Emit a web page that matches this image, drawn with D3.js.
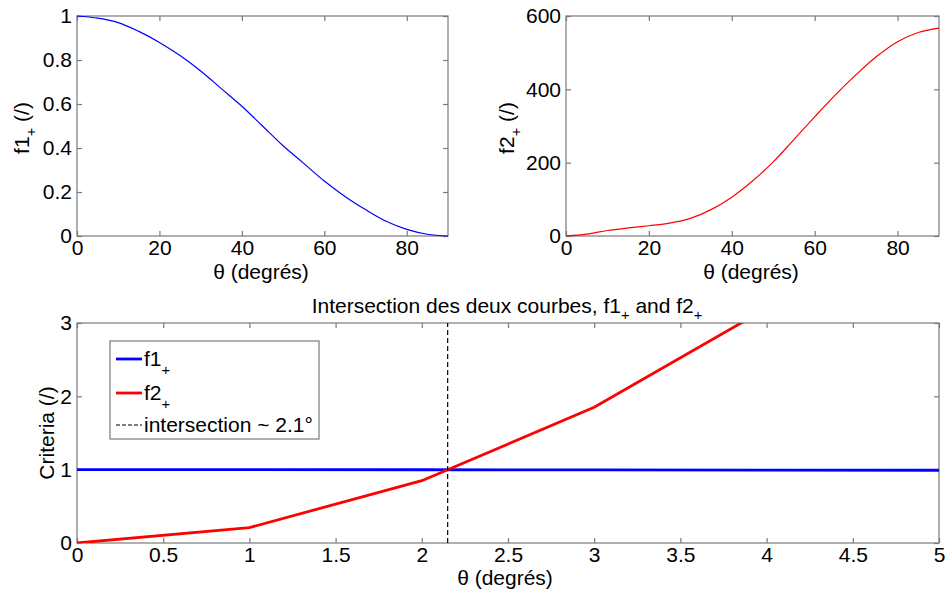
<!DOCTYPE html>
<html>
<head>
<meta charset="utf-8">
<script src="https://cdn.jsdelivr.net/npm/d3@7"></script>
<style>
  html, body { margin: 0; padding: 0; background: #fff; }
  svg { display: block; }
  text { font-family: "Liberation Sans", Arial, Helvetica, sans-serif; fill: #000; }
</style>
</head>
<body>
<svg id="chart" width="947" height="592"></svg>
<script>
// ---------- DATA ----------
const thetaTop = [0, 5, 10, 15, 20, 25, 30, 35, 40, 45, 50, 55, 60, 65, 70, 75, 80, 85, 90];
const f1Top = [1, 0.99, 0.97, 0.93, 0.88, 0.82, 0.75, 0.67, 0.59, 0.5, 0.41, 0.33, 0.25, 0.18, 0.12, 0.067, 0.03, 0.008, 0];
const f2Top = [0, 5, 15, 22, 28, 35, 48, 72, 106, 150, 202, 263, 325, 385, 440, 490, 530, 555, 567];

const thetaBottom = [0, 1, 2, 3, 4, 5];
const f1Bottom = [1, 1, 0.999, 0.997, 0.995, 0.992];
const f2Bottom = [0, 0.21, 0.85, 1.85, 3.2, 4.7];
const intersectionTheta = 2.15;

const topXTicks = [0, 20, 40, 60, 80];
const f1YTicks = [0, 0.2, 0.4, 0.6, 0.8, 1];
const f2YTicks = [0, 200, 400, 600];
const bottomXTicks = [0, 0.5, 1, 1.5, 2, 2.5, 3, 3.5, 4, 4.5, 5];
const bottomYTicks = [0, 1, 2, 3];

const legendLabels = ["f1", "f2", "intersection ~ 2.1°"];

// ---------- LAYOUT ----------
const svg = d3.select("#chart");
const FS = 21;
const frameColor = "#7a7a7a";

function fmt(v) { return String(+v.toFixed(2)); }

function makeAxes(g, x, y, xTicks, yTicks) {
  const [x0, x1] = x.range();
  const [y0, y1] = y.range(); // y0 bottom, y1 top
  g.append("rect").attr("x", x0).attr("y", y1).attr("width", x1 - x0).attr("height", y0 - y1)
    .attr("fill", "none").attr("stroke", frameColor).attr("stroke-width", 1.2);
  const ax = [
    g.append("g").attr("transform", `translate(0,${y0})`)
      .call(d3.axisBottom(x).tickValues(xTicks).tickFormat(fmt).tickSizeInner(-5).tickSizeOuter(0).tickPadding(4)),
    g.append("g").attr("transform", `translate(0,${y1})`)
      .call(d3.axisTop(x).tickValues(xTicks).tickFormat("").tickSizeInner(-5).tickSizeOuter(0)),
    g.append("g").attr("transform", `translate(${x0},0)`)
      .call(d3.axisLeft(y).tickValues(yTicks).tickFormat(fmt).tickSizeInner(-5).tickSizeOuter(0).tickPadding(5)),
    g.append("g").attr("transform", `translate(${x1},0)`)
      .call(d3.axisRight(y).tickValues(yTicks).tickFormat("").tickSizeInner(-5).tickSizeOuter(0))
  ];
  ax.forEach(a => {
    a.select(".domain").remove();
    a.selectAll(".tick line").attr("stroke", frameColor).attr("stroke-width", 1.2);
    a.selectAll(".tick text").attr("font-size", FS).attr("fill", "#000")
      .style("font-family", '"Liberation Sans", Arial, sans-serif');
  });
}

function subLabel(parent, base, sub, rest, fs) {
  const t = parent.append("text").attr("font-size", fs);
  t.append("tspan").text(base);
  t.append("tspan").text(sub).attr("font-size", fs * 0.7).attr("dy", fs * 0.35);
  if (rest !== null) t.append("tspan").text(rest).attr("dy", -fs * 0.35);
  return t;
}

// ---------- TOP LEFT ----------
const g1 = svg.append("g");
const x1s = d3.scaleLinear().domain([0, 90]).range([77, 448]);
const y1s = d3.scaleLinear().domain([0, 1]).range([236, 16]);
makeAxes(g1, x1s, y1s, topXTicks, f1YTicks);
g1.append("path").datum(thetaTop.map((t, i) => [t, f1Top[i]]))
  .attr("fill", "none").attr("stroke", "#0000ff").attr("stroke-width", 1.2)
  .attr("d", d3.line().x(d => x1s(d[0])).y(d => y1s(d[1])).curve(d3.curveCatmullRom));
g1.append("text").attr("x", 261).attr("y", 279).attr("text-anchor", "middle").attr("font-size", FS)
  .text("θ (degrés)");
subLabel(g1, "f1", "+", " (/)", FS).attr("text-anchor", "middle")
  .attr("transform", "translate(29,128) rotate(-90)");

// ---------- TOP RIGHT ----------
const g2 = svg.append("g");
const x2s = d3.scaleLinear().domain([0, 90]).range([566, 939]);
const y2s = d3.scaleLinear().domain([0, 600]).range([236, 16]);
makeAxes(g2, x2s, y2s, topXTicks, f2YTicks);
g2.append("path").datum(thetaTop.map((t, i) => [t, f2Top[i]]))
  .attr("fill", "none").attr("stroke", "#ff0000").attr("stroke-width", 1.2)
  .attr("d", d3.line().x(d => x2s(d[0])).y(d => y2s(d[1])).curve(d3.curveCatmullRom));
g2.append("text").attr("x", 751).attr("y", 279).attr("text-anchor", "middle").attr("font-size", FS)
  .text("θ (degrés)");
subLabel(g2, "f2", "+", " (/)", FS).attr("text-anchor", "middle")
  .attr("transform", "translate(514,128) rotate(-90)");

// ---------- BOTTOM ----------
const g3 = svg.append("g");
const x3s = d3.scaleLinear().domain([0, 5]).range([77, 939]);
const y3s = d3.scaleLinear().domain([0, 3]).range([543, 323]);
svg.append("defs").append("clipPath").attr("id", "clip3").append("rect")
  .attr("x", 77).attr("y", 323).attr("width", 939 - 77).attr("height", 543 - 323);
makeAxes(g3, x3s, y3s, bottomXTicks, bottomYTicks);
const line3 = d3.line().x(d => x3s(d[0])).y(d => y3s(d[1]));
g3.append("path").datum(thetaBottom.map((t, i) => [t, f1Bottom[i]]))
  .attr("clip-path", "url(#clip3)")
  .attr("fill", "none").attr("stroke", "#0000ff").attr("stroke-width", 2.8).attr("d", line3);
g3.append("path").datum(thetaBottom.map((t, i) => [t, f2Bottom[i]]))
  .attr("clip-path", "url(#clip3)")
  .attr("fill", "none").attr("stroke", "#ff0000").attr("stroke-width", 2.8).attr("d", line3);
g3.append("line").attr("x1", x3s(intersectionTheta)).attr("x2", x3s(intersectionTheta))
  .attr("y1", y3s(0)).attr("y2", y3s(3))
  .attr("stroke", "#000").attr("stroke-width", 1.2).attr("stroke-dasharray", "5,3");

// title
const title = g3.append("text").attr("x", 507).attr("y", 313).attr("text-anchor", "middle").attr("font-size", FS);
title.append("tspan").text("Intersection des deux courbes, f1");
title.append("tspan").text("+").attr("font-size", FS * 0.7).attr("dy", FS * 0.35);
title.append("tspan").text(" and f2").attr("dy", -FS * 0.35);
title.append("tspan").text("+").attr("font-size", FS * 0.7).attr("dy", FS * 0.35);

g3.append("text").attr("x", 505).attr("y", 585).attr("text-anchor", "middle").attr("font-size", FS)
  .text("θ (degrés)");
g3.append("text").attr("text-anchor", "middle").attr("font-size", FS)
  .attr("transform", "translate(54,433) rotate(-90)").text("Criteria (/)");

// legend
const lg = g3.append("g");
lg.append("rect").attr("x", 110).attr("y", 341).attr("width", 209).attr("height", 98)
  .attr("fill", "#fff").attr("stroke", frameColor).attr("stroke-width", 1.2);
const legendRows = [
  { y: 359, color: "#0000ff", dash: null, w: 2.8, label: legendLabels[0], sub: true },
  { y: 393, color: "#ff0000", dash: null, w: 2.8, label: legendLabels[1], sub: true },
  { y: 425, color: "#000", dash: "4,2", w: 1.2, label: legendLabels[2], sub: false }
];
legendRows.forEach(r => {
  lg.append("line").attr("x1", 116).attr("x2", 142).attr("y1", r.y).attr("y2", r.y)
    .attr("stroke", r.color).attr("stroke-width", r.w).attr("stroke-dasharray", r.dash);
  const t = lg.append("text").attr("x", 144).attr("y", r.y + 7).attr("font-size", FS);
  t.append("tspan").text(r.label);
  if (r.sub) t.append("tspan").text("+").attr("font-size", FS * 0.7).attr("dy", FS * 0.45);
});
</script>
</body>
</html>
